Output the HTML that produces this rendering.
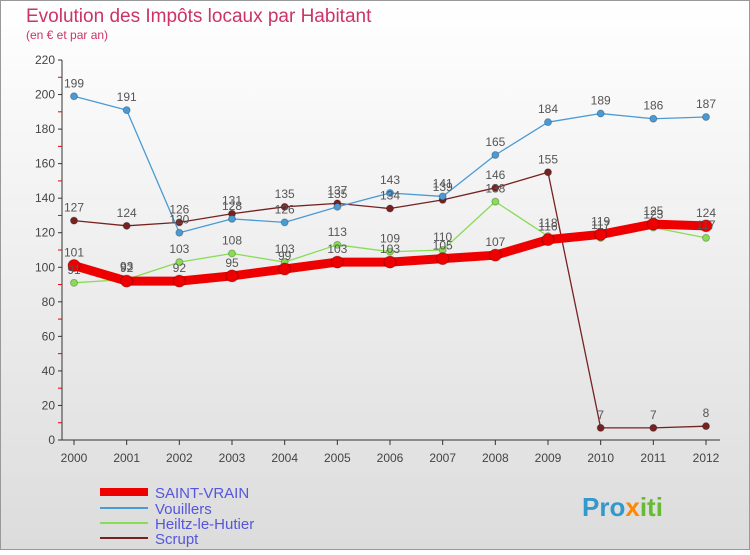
<!DOCTYPE html>
<html><head><meta charset="utf-8"><style>
body{margin:0;width:750px;height:550px;overflow:hidden;font-family:"Liberation Sans",sans-serif}
</style></head><body>
<svg id="c" width="750" height="550" xmlns="http://www.w3.org/2000/svg">
<defs><linearGradient id="bg" x1="0" y1="0" x2="0" y2="1"><stop offset="0" stop-color="#ffffff"/><stop offset="1" stop-color="#dcdcdc"/></linearGradient></defs>
<rect x="0.5" y="0.5" width="749" height="549" fill="url(#bg)" stroke="#999"/>
<text x="26" y="22" font-size="19" fill="#cc3366">Evolution des Impôts locaux par Habitant</text>
<text x="26" y="39" font-size="12" fill="#cc3366">(en € et par an)</text>
<g id="axes"></g><g id="series"></g><g id="labels"></g>
<g>
<line x1="100" y1="492" x2="148" y2="492" stroke="#ee0000" stroke-width="8"/>
<text x="155" y="498" font-size="15" fill="#5555dd">SAINT-VRAIN</text>
<line x1="100" y1="508" x2="148" y2="508" stroke="#4a9ad4" stroke-width="2"/>
<text x="155" y="514" font-size="15" fill="#5555dd">Vouillers</text>
<line x1="100" y1="523" x2="148" y2="523" stroke="#88dd55" stroke-width="2"/>
<text x="155" y="529" font-size="15" fill="#5555dd">Heiltz-le-Hutier</text>
<line x1="100" y1="538" x2="148" y2="538" stroke="#772222" stroke-width="2"/>
<text x="155" y="544" font-size="15" fill="#5555dd">Scrupt</text>
</g>
<text x="582" y="516" font-size="26" font-weight="bold" fill="#3399cc">Pro<tspan fill="#ff8800">x</tspan><tspan fill="#66bb33">iti</tspan></text>
</svg>
<script>
const years=["2000","2001","2002","2003","2004","2005","2006","2007","2008","2009","2010","2011","2012"];
const yTicks=[0,20,40,60,80,100,120,140,160,180,200,220];
const saintVrain=[101,92,92,95,99,103,103,105,107,116,119,125,124];
const vouillers=[199,191,120,128,126,135,143,141,165,184,189,186,187];
const heiltz=[91,93,103,108,103,113,109,110,138,118,117,123,117];
const scrupt=[127,124,126,131,135,137,134,139,146,155,7,7,8];
const NS="http://www.w3.org/2000/svg";
const X=i=>74+i*(706-74)/(years.length-1);
const Y=v=>440-v*(380/220);
function mk(t,a,p){const e=document.createElementNS(NS,t);for(const k in a)e.setAttribute(k,a[k]);p.appendChild(e);return e;}
const ax=document.getElementById('axes');
const yl=mk('line',{x1:62,y1:60,x2:62,y2:440,stroke:'#333'},ax);


const xl=mk('line',{x1:62,y1:440,x2:720,y2:440,stroke:'#333'},ax);


yTicks.forEach(v=>{
 mk('line',{x1:58,y1:Y(v),x2:62,y2:Y(v),stroke:'#333'},ax);
 if(v<220) mk('line',{x1:58,y1:Y(v+10),x2:62,y2:Y(v+10),stroke:'#e00'},ax);
 const t=mk('text',{x:55,y:Y(v)+4,'text-anchor':'end','font-size':12,fill:'#444'},ax);t.textContent=v;
 
 
});
years.forEach((y,i)=>{
 mk('line',{x1:X(i),y1:440,x2:X(i),y2:445,stroke:'#333'},ax);
 const t=mk('text',{x:X(i),y:462,'text-anchor':'middle','font-size':12,fill:'#444'},ax);t.textContent=y;
 
 
});
const sg=document.getElementById('series'),lg=document.getElementById('labels');
function draw(data,color,w,r,name){
 const pl=mk('polyline',{points:data.map((v,i)=>X(i)+','+Y(v)).join(' '),fill:'none',stroke:color,'stroke-width':w,'stroke-linejoin':'round'},sg);
 
 
 data.forEach((v,i)=>{
  const c=mk('circle',{cx:X(i),cy:Y(v),r:r,fill:color,stroke:'rgba(0,0,0,0.25)','stroke-width':1},sg);
  
  
  const t=mk('text',{x:X(i),y:Y(v)-9,'text-anchor':'middle','font-size':12,fill:'#555'},lg);t.textContent=v;
  
  
 });
}
draw(scrupt,'#772222',1.3,3.5,'scrupt');
draw(heiltz,'#88dd55',1.3,3.5,'heiltz');
draw(vouillers,'#4a9ad4',1.3,3.5,'vouillers');
draw(saintVrain,'#ee0000',9,6,'saint-vrain');
</script>
</body></html>
